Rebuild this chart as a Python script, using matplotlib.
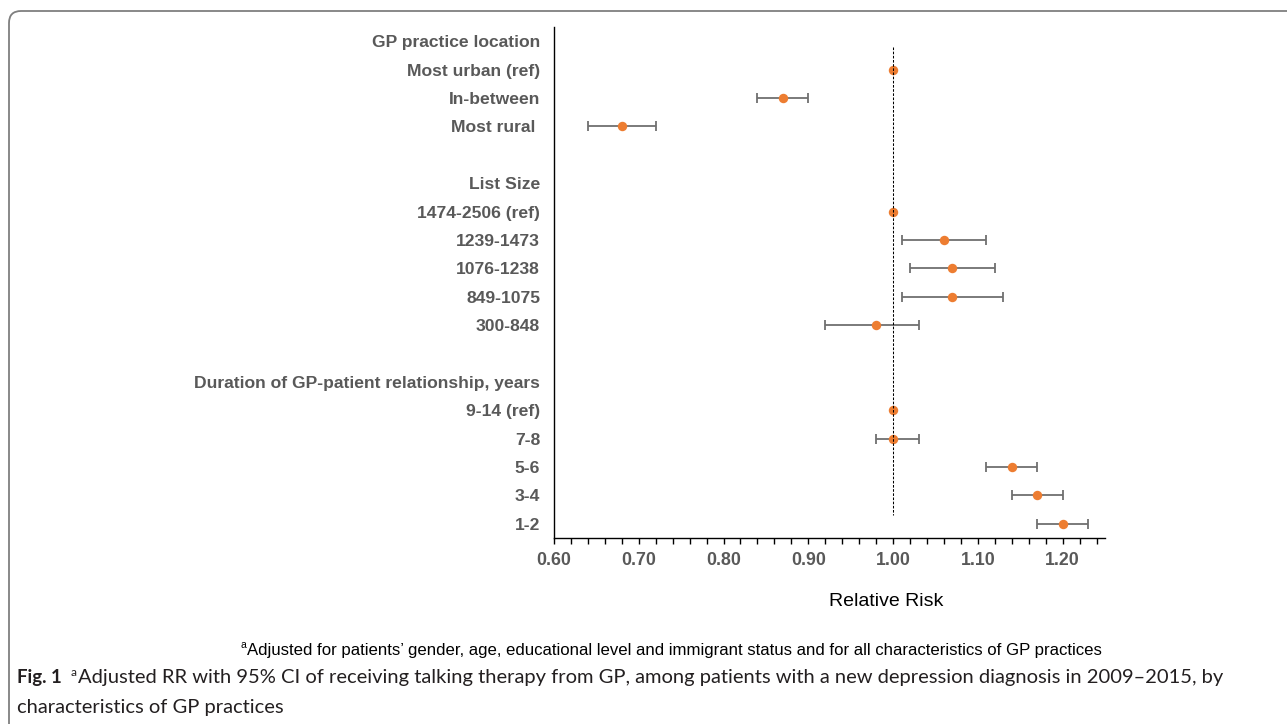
import numpy as np
import matplotlib
matplotlib.use("Agg")
import matplotlib.pyplot as plt
from matplotlib.patches import FancyBboxPatch
from matplotlib.transforms import IdentityTransform
from matplotlib.ticker import FixedLocator, MultipleLocator, FormatStrFormatter
from matplotlib import font_manager

# ---------------- data ----------------
row_labels = ["GP practice location", "Most urban (ref)", "In-between", "Most rural ", "",
              "List Size", "1474-2506 (ref)", "1239-1473", "1076-1238", "849-1075", "300-848", "",
              "Duration of GP-patient relationship, years", "9-14 (ref)", "7-8", "5-6", "3-4", "1-2"]
rr = [np.nan, 1.00, 0.87, 0.68, np.nan,
      np.nan, 1.00, 1.06, 1.07, 1.07, 0.98, np.nan,
      np.nan, 1.00, 1.00, 1.14, 1.17, 1.20]
ci_low = [np.nan, 1.00, 0.84, 0.64, np.nan,
          np.nan, 1.00, 1.01, 1.02, 1.01, 0.92, np.nan,
          np.nan, 1.00, 0.98, 1.11, 1.14, 1.17]
ci_high = [np.nan, 1.00, 0.90, 0.72, np.nan,
           np.nan, 1.00, 1.11, 1.12, 1.13, 1.03, np.nan,
           np.nan, 1.00, 1.03, 1.17, 1.20, 1.23]
x_ticks = [0.60, 0.70, 0.80, 0.90, 1.00, 1.10, 1.20]
ref_value = 1.00
x_label = "Relative Risk"
footnote = "Adjusted for patients\u2019 gender, age, educational level and immigrant status and for all characteristics of GP practices"
caption_bold = "Fig. 1"
caption_line1 = "Adjusted RR with 95% CI of receiving talking therapy from GP, among patients with a new depression diagnosis in 2009\u20132015, by"
caption_line2 = "characteristics of GP practices"

# ---------------- figure ----------------
W, H = 1287, 724
plt.rcParams['font.family'] = ['Liberation Sans', 'DejaVu Sans']
fig = plt.figure(figsize=(W / 100, H / 100), dpi=100)
fig.patch.set_facecolor("white")

# rounded frame (extends beyond right & bottom edges)
frame = FancyBboxPatch((9, -60), W + 100, H - 11 + 60,
                       boxstyle="round,pad=0,rounding_size=12",
                       transform=IdentityTransform(), fill=False,
                       edgecolor="#7f7f7f", linewidth=1.3)
fig.add_artist(frame)

ax = fig.add_axes([554 / W, 1 - 538 / H, (1105 - 554) / W, (538 - 27) / H])

rr_a = np.array(rr)
lo_a = np.array(ci_low)
hi_a = np.array(ci_high)
y = np.arange(len(row_labels))

has_ci = np.isfinite(rr_a) & (hi_a > lo_a)
ax.errorbar(rr_a[has_ci], y[has_ci],
            xerr=[rr_a[has_ci] - lo_a[has_ci], hi_a[has_ci] - rr_a[has_ci]],
            fmt='none', ecolor="#6f6f6f", elinewidth=1.3, capsize=3.5, capthick=1.3, zorder=2)
pts = np.isfinite(rr_a)
ax.plot(rr_a[pts], y[pts], 'o', color="#ED7D31", markersize=6.8, markeredgewidth=0, zorder=3)

ax.vlines(ref_value, 0.2, 16.7, colors="black", linewidth=0.75, linestyles=(0, (2.5, 1.5)), zorder=4)

ax.set_xlim(0.60, 1.25)
ax.set_ylim(17.5, -0.5)

ax.set_yticks(y)
ax.set_yticklabels(row_labels, fontsize=12.6, fontweight="bold", color="#595959")
ax.tick_params(axis='y', length=0, pad=10)

ax.xaxis.set_major_locator(FixedLocator(x_ticks))
ax.xaxis.set_minor_locator(MultipleLocator(0.02))
ax.xaxis.set_major_formatter(FormatStrFormatter('%.2f'))
ax.tick_params(axis='x', which='both', direction='out', length=4, width=1, color="black")
ax.tick_params(axis='x', which='major', pad=6, labelsize=12.8, labelcolor="#595959")
for lab in ax.get_xticklabels():
    lab.set_fontweight("bold")

for s in ["top", "right"]:
    ax.spines[s].set_visible(False)
for s in ["left", "bottom"]:
    ax.spines[s].set_linewidth(1.0)
    ax.spines[s].set_color("black")

fig.text(886 / W, 1 - 602 / H, x_label, ha="center", va="center", fontsize=14, color="black")

# ---------------- footnote & caption ----------------
fig.canvas.draw()
renderer = fig.canvas.get_renderer()

def px(x, yy):
    return x / W, 1 - yy / H

# footnote: superscript a + text
fn = fig.text(*px(0, 650), footnote, ha="left", va="center", fontsize=11, color="black")
w = fn.get_window_extent(renderer).width
fn.set_fontsize(11 * 850 / w)
sup = fig.text(*px(0, 645), "a", ha="left", va="center", fontsize=7.5, color="black")
w_sup = sup.get_window_extent(renderer).width
x0 = 240
sup.set_position(px(x0, 645))
fn.set_position(px(x0 + w_sup + 1, 650))

names = {f.name for f in font_manager.fontManager.ttflist}
cap_font = ['Liberation Sans Narrow', 'Lato', 'DejaVu Sans'] if 'Liberation Sans Narrow' in names else ['Lato', 'DejaVu Sans']

cb = fig.text(*px(17, 678), caption_bold, ha="left", va="center", fontsize=13,
              fontweight="bold", color="#231f20", family=cap_font)
wb = cb.get_window_extent(renderer).width
cb.set_fontsize(13 * 45 / wb)
wb = cb.get_window_extent(renderer).width
csup = fig.text(*px(17 + wb + 9, 673), "a", ha="left", va="center", fontsize=8.5,
                color="#231f20", family=cap_font)
ws = csup.get_window_extent(renderer).width
xstart = 17 + wb + 9 + ws + 1
c1 = fig.text(*px(xstart, 678), caption_line1, ha="left", va="center", fontsize=13,
              color="#231f20", family=cap_font)
w1 = c1.get_window_extent(renderer).width
fs = 13 * (1222 - xstart) / w1
c1.set_fontsize(fs)
c2 = fig.text(*px(17, 707), caption_line2, ha="left", va="center", fontsize=fs,
              color="#231f20", family=cap_font)

fig.savefig("out.png", dpi=100, facecolor="white")
